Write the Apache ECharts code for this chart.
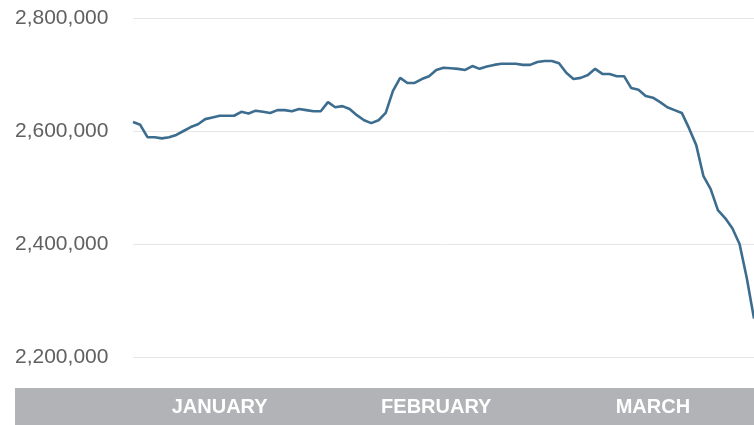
<!DOCTYPE html>
<html>
<head>
<meta charset="utf-8">
<script src="https://cdn.jsdelivr.net/npm/echarts@6/dist/echarts.min.js"></script>
<style>
html,body{margin:0;padding:0;background:#fff;}
#chart{width:754px;height:425px;}
</style>
</head>
<body>
<div id="chart"></div>
<script>
// Daily values, starting 2020-01-04
const startDate = '2020-01-04';
const values = [
  2616000, 2611000, 2589000, 2589000, 2587000, 2589000, 2593000, 2600000, 2607000, 2612000,
  2621000, 2624000, 2627000, 2627000, 2627000, 2634000, 2631000, 2636000, 2634000, 2632000,
  2637000, 2637000, 2635000, 2639000, 2637000, 2635000, 2635000, 2651000, 2642000, 2644000,
  2639000, 2628000, 2619000, 2614000, 2619000, 2632000, 2671000, 2694000, 2685000, 2685000,
  2692000, 2697000, 2708000, 2712000, 2711000, 2710000, 2708000, 2715000, 2710000, 2714000,
  2717000, 2719000, 2719000, 2719000, 2717000, 2717000, 2722000, 2724000, 2724000, 2720000,
  2703000, 2692000, 2694000, 2699000, 2710000, 2701000, 2701000, 2697000, 2697000, 2676000,
  2673000, 2662000, 2659000, 2651000, 2642000, 2637000, 2632000, 2605000, 2575000, 2520000,
  2497000, 2460000, 2446000, 2428000, 2400000, 2340000, 2268000
];
const monthLabelDates = ['2020-01-16', '2020-02-15', '2020-03-16'];
const monthLabelTexts = ['JANUARY', 'FEBRUARY', 'MARCH'];
const yTicks = [2200000, 2400000, 2600000, 2800000];

// category dates
const dates = [];
(function(){
  const d0 = new Date(startDate + 'T00:00:00Z');
  for (let i = 0; i < values.length; i++) {
    const d = new Date(d0.getTime() + i * 86400000);
    dates.push(d.toISOString().slice(0, 10));
  }
})();

const chart = echarts.init(document.getElementById('chart'), null, {renderer: 'canvas'});
chart.setOption({
  animation: false,
  backgroundColor: '#ffffff',
  grid: {left: 133, top: 18, width: 625, height: 339, containLabel: false},
  graphic: [{
    type: 'rect', z: -10, silent: true,
    shape: {x: 15, y: 388, width: 739, height: 37},
    style: {fill: '#b2b3b6'}
  }],
  xAxis: {
    type: 'category',
    data: dates,
    boundaryGap: false,
    axisLine: {show: false},
    axisTick: {show: false},
    splitLine: {show: false},
    axisLabel: {
      margin: 40,
      color: '#ffffff',
      fontFamily: 'Liberation Sans',
      fontWeight: 'bold',
      fontSize: 20,
      interval: function (idx, val) { return monthLabelDates.indexOf(val) >= 0; },
      formatter: function (val) {
        const k = monthLabelDates.indexOf(val);
        return k >= 0 ? monthLabelTexts[k] : '';
      }
    }
  },
  yAxis: {
    type: 'value',
    min: yTicks[0],
    max: yTicks[yTicks.length - 1],
    interval: 200000,
    axisLine: {show: false},
    axisTick: {show: false},
    splitLine: {lineStyle: {color: '#e6e6e6', width: 1}},
    axisLabel: {
      align: 'left',
      margin: 118,
      color: '#606060',
      fontFamily: 'Liberation Sans',
      fontSize: 21,
      formatter: function (v) { return v.toLocaleString('en-US'); }
    }
  },
  series: [{
    type: 'line',
    data: values,
    showSymbol: false,
    symbol: 'none',
    smooth: false,
    clip: true,
    lineStyle: {color: '#3c6d8f', width: 2.6},
    itemStyle: {color: '#3c6d8f'}
  }]
});
</script>
</body>
</html>
